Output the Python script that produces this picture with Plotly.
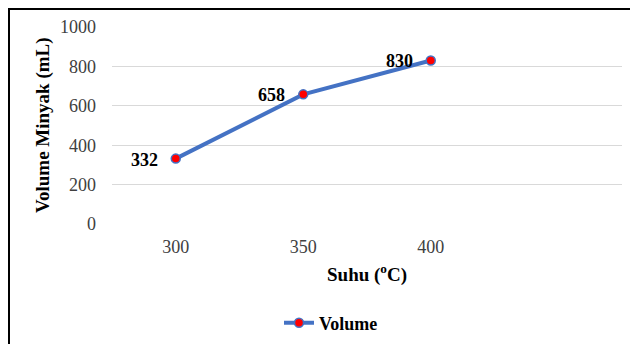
import plotly.graph_objects as go

categories = ["300", "350", "400"]
volume = [332, 658, 830]
series_name = "Volume"
y_ticks = [0, 200, 400, 600, 800, 1000]

# page body has an 8px margin; lay out in screen pixels and compensate
OFF = 8
W, H = 638 - OFF, 344 - OFF
L, R, T, B = 112 - OFF, 16, 27 - OFF, 120
pw = W - L - R
ph = H - T - B

def px_x(sx):
    return (sx - OFF - L) / pw

def px_y(sy):
    return (H - B - (sy - OFF)) / ph

SERIF = "Liberation Serif"

fig = go.Figure()
fig.add_trace(go.Scatter(
    x=categories, y=volume, name=series_name,
    mode="lines+markers",
    line=dict(color="#4472C4", width=4),
    marker=dict(color="#FF0000", size=9, line=dict(color="#4472C4", width=1.5)),
    cliponaxis=False,
))

annotations = [
    dict(x=i, y=v, xref="x", yref="y", text=f"<b>{v}</b>", showarrow=False,
         xanchor="right", yanchor="middle", xshift=-16, yshift=-1,
         font=dict(family=SERIF, size=18, color="#000000"))
    for i, v in enumerate(volume)
]
annotations += [
    dict(text="<b>Suhu (<sup>o</sup>C)</b>", xref="paper", yref="paper",
         x=px_x(367), y=px_y(273), xanchor="center", yanchor="middle",
         showarrow=False, font=dict(family=SERIF, size=19, color="#000000")),
    dict(text="<b>Volume Minyak (mL)</b>", xref="paper", yref="paper",
         x=px_x(43), y=px_y(125), xanchor="center", yanchor="middle",
         textangle=-90, showarrow=False,
         font=dict(family=SERIF, size=19, color="#000000")),
]

fig.update_layout(
    width=W, height=H,
    margin=dict(l=L, r=R, t=T, b=B, autoexpand=False),
    paper_bgcolor="white", plot_bgcolor="white",
    font=dict(family=SERIF, size=18, color="#404040"),
    xaxis=dict(
        type="category", range=[-0.5, 3.5],
        showgrid=False, showline=False, zeroline=False, ticks="",
        ticklabelstandoff=10,
        tickfont=dict(family=SERIF, size=18, color="#404040"),
    ),
    yaxis=dict(
        range=[0, 1000], tickvals=y_ticks,
        showgrid=True, gridcolor="#D9D9D9", gridwidth=1,
        showline=False, zeroline=False, ticks="",
        ticklabelstandoff=15,
        tickfont=dict(family=SERIF, size=18, color="#404040"),
    ),
    showlegend=True,
    legend=dict(
        orientation="h", xref="container", yref="container",
        x=(279 - OFF) / W, y=(H - (323 - OFF)) / H,
        xanchor="left", yanchor="middle",
        font=dict(family=SERIF, size=18, color="#000000", weight="bold"),
        itemwidth=30, bgcolor="rgba(0,0,0,0)",
    ),
    annotations=annotations,
    shapes=[
        dict(type="rect", xref="paper", yref="paper",
             x0=px_x(OFF + 1), x1=px_x(700), y0=px_y(400), y1=px_y(OFF + 1),
             line=dict(color="#000000", width=2), fillcolor="rgba(0,0,0,0)", layer="above"),
    ],
)

fig.write_html("out.html")
